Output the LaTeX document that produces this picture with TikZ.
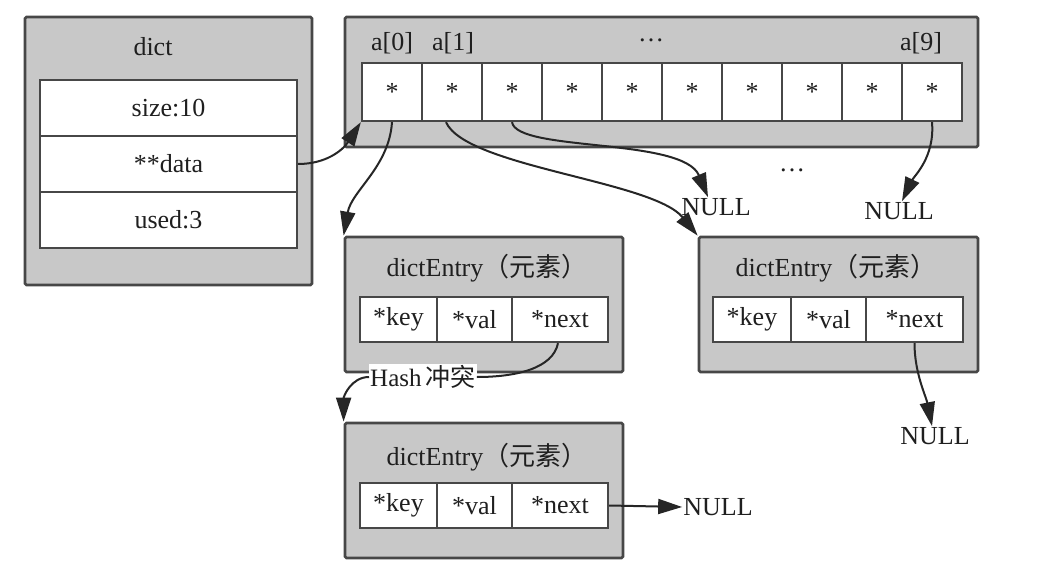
\documentclass[tikz,border=0pt]{standalone}
\usepackage{fontspec}
\setmainfont{Liberation Serif}
\newfontfamily\cjk{Noto Sans CJK SC}
\usetikzlibrary{arrows.meta}
\definecolor{boxgray}{HTML}{C8C8C8}
\definecolor{edgegray}{HTML}{474747}
\definecolor{linegray}{HTML}{262626}
\newcommand\diagfont{\fontsize{26}{29}\selectfont}
\begin{document}
\begin{tikzpicture}[x=1pt,y=-1pt,
  outerbox/.style={draw=edgegray, fill=boxgray, line width=2.8pt, inner sep=0pt, rounded corners=1.5pt},
  fieldbox/.style={draw=edgegray, fill=white, line width=2.3pt, inner sep=0pt, font=\diagfont, text=black!88},
  txt/.style={inner sep=1pt, font=\diagfont, text=black!88},
  conn/.style={draw=linegray, line width=2pt, -{Triangle[length=24pt 0 0,width=15pt 0 0]}},
  plain/.style={draw=linegray, line width=2pt}]
\fill[white] (0,0) rectangle (1039,569);
\useasboundingbox (0,0) rectangle (1039,569);

% dict
\node[outerbox, minimum width=287pt, minimum height=268pt] (dict) at (168.5,151) {};
\node[txt] (dictt) at (153,47) {dict};
\node[fieldbox, minimum width=257pt, minimum height=56pt] (dsize) at (168.5,108) {size:10};
\node[fieldbox, minimum width=257pt, minimum height=56pt] (ddata) at (168.5,164) {**data};
\node[fieldbox, minimum width=257pt, minimum height=56pt] (dused) at (168.5,220) {used:3};

% array
\node[outerbox, minimum width=633pt, minimum height=130pt] (arr) at (661.5,82) {};
\foreach \i in {0,...,9}{
  \node[fieldbox, minimum width=60pt, minimum height=58pt] (c\i) at (392+60*\i,92) {*};
}
\node[txt] (l0) at (392,43) {a[0]};
\node[txt] (l1) at (453,43) {a[1]};
\node[txt] (ldots) at (651,40) {\dots};
\node[txt] (l9) at (921,43) {a[9]};

% entry 1
\node[outerbox, minimum width=278pt, minimum height=135pt] (e1) at (484,304.5) {};
\node[txt] (e1t) at (487,268) {dictEntry\cjk{（元素）}};
\node[fieldbox, minimum width=77pt, minimum height=45pt] (e1k) at (398.5,319.5) {*key};
\node[fieldbox, minimum width=75pt, minimum height=45pt] (e1v) at (474.5,319.5) {*val};
\node[fieldbox, minimum width=96pt, minimum height=45pt] (e1n) at (560,319.5) {*next};

% entry 2
\node[outerbox, minimum width=279pt, minimum height=135pt] (e2) at (838.5,304.5) {};
\node[txt] (e2t) at (836,268) {dictEntry\cjk{（元素）}};
\node[fieldbox, minimum width=78pt, minimum height=45pt] (e2k) at (752,319.5) {*key};
\node[fieldbox, minimum width=75pt, minimum height=45pt] (e2v) at (828.5,319.5) {*val};
\node[fieldbox, minimum width=97pt, minimum height=45pt] (e2n) at (914.5,319.5) {*next};

% entry 3
\node[outerbox, minimum width=278pt, minimum height=135pt] (e3) at (484,490.5) {};
\node[txt] (e3t) at (487,457) {dictEntry\cjk{（元素）}};
\node[fieldbox, minimum width=77pt, minimum height=45pt] (e3k) at (398.5,505.5) {*key};
\node[fieldbox, minimum width=75pt, minimum height=45pt] (e3v) at (474.5,505.5) {*val};
\node[fieldbox, minimum width=96pt, minimum height=45pt] (e3n) at (560,505.5) {*next};

% NULLs and dots
\node[txt] (null1) at (716,207) {NULL};
\node[txt] (null2) at (899,211) {NULL};
\node[txt] (null3) at (718,507) {NULL};
\node[txt] (null4) at (935,436) {NULL};
\node[txt] (dots2) at (792,170) {\dots};

% connectors
\draw[conn] (ddata.east) .. controls +(28,0) and +(-18,28) .. (c0.south west);
\draw[conn] (c0.south) .. controls +(-3,45) and +(8,-45) .. (e1.north west);
\draw[conn] ([xshift=-6pt]c1.south) .. controls +(20,45) and +(-45,-55) .. (e2.north west);
\draw[conn] (c2.south) .. controls +(5,30) and +(-25,-60) .. ([xshift=-8pt]null1.north);
\draw[conn] (c9.south) .. controls +(3,35) and +(12,-25) .. ([xshift=3pt]null2.north);
\draw[conn] (e2n.south) .. controls +(0,30) and +(-6,-30) .. ([xshift=-3pt]null4.north);
\draw[conn] (e3n.east) -- (null3.west);

\node[txt, fill=white, inner sep=1pt, font=\fontsize{25}{27}\selectfont] (hash) at (423,377) {Hash\,\cjk{冲突}};
\draw[plain] ([xshift=-2pt]e1n.south) .. controls +(-5,25) and +(40,0) .. (hash.east);
\draw[conn] (hash.west) .. controls +(-18,0) and +(0,-25) .. (e3.north west);
\end{tikzpicture}
\end{document}
